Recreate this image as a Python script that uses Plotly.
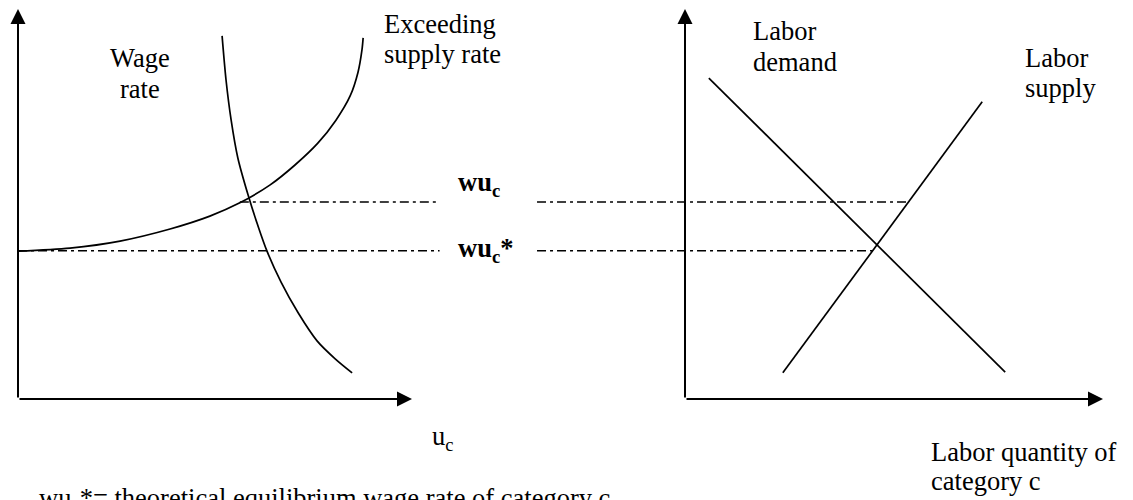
import plotly.graph_objects as go

# ---------------- data ----------------
# Left panel: x = u_c (abstract units), y = wage level
wage_rate_u = [0.00, 1.32, 2.59, 3.86, 4.87, 5.63, 6.40, 7.03, 7.61, 8.07, 8.43, 8.63, 8.73, 8.76]
wage_rate_w = [3.79, 3.87, 4.05, 4.36, 4.69, 5.03, 5.49, 6.00, 6.56, 7.15, 7.77, 8.38, 8.95, 9.26]

excess_supply_u = [5.18, 5.28, 5.41, 5.58, 5.84, 6.09, 6.32, 6.68, 7.11, 7.59, 8.05, 8.48]
excess_supply_w = [9.31, 8.18, 7.15, 6.18, 5.23, 4.44, 3.79, 2.99, 2.21, 1.49, 1.03, 0.67]

# Right panel: x = labor quantity of category c, y = wage level
labor_demand_q = [0.57, 7.66]
labor_demand_w = [8.23, 0.69]
labor_supply_q = [2.34, 7.11]
labor_supply_w = [0.67, 7.62]

# Wage levels
wu_c = 5.05
wu_c_star = 3.80

# Extents of the dash-dot guide lines
wu_c_left_u = [5.63, 10.70]
wu_c_star_left_u = [0.0, 10.70]
wu_c_right_q = [-3.54, 5.36]
wu_c_star_right_q = [-3.54, 4.59]

# Axis arrow extents
u_axis_max = 10.0
q_axis_max = 10.0
w_axis_max = 10.0

# ---------------- layout geometry ----------------
W, H = 1133, 500
SPLIT = 487            # px boundary between the two panels
L_ORIGIN, L_SCALE = 18, 39.4
R_ORIGIN, R_SCALE = 685, 41.8
Y_ORIGIN, Y_SCALE = 399, 39.0

FONT = "Liberation Serif, Times New Roman, DejaVu Serif, serif"
BLACK = "#000000"
DASH = "9px,4px,3px,4px"
TXT = 26.5

fig = go.Figure()

curve_style = dict(color=BLACK, width=1.7)
guide_style = dict(color=BLACK, width=1.5, dash=DASH)

fig.add_trace(go.Scatter(x=wage_rate_u, y=wage_rate_w, mode="lines",
                         line=dict(shape="spline", smoothing=0.8, **curve_style),
                         xaxis="x", yaxis="y"))
fig.add_trace(go.Scatter(x=excess_supply_u, y=excess_supply_w, mode="lines",
                         line=dict(shape="spline", smoothing=0.8, **curve_style),
                         xaxis="x", yaxis="y"))
fig.add_trace(go.Scatter(x=wu_c_left_u, y=[wu_c, wu_c], mode="lines",
                         line=guide_style, xaxis="x", yaxis="y"))
fig.add_trace(go.Scatter(x=wu_c_star_left_u, y=[wu_c_star, wu_c_star], mode="lines",
                         line=guide_style, xaxis="x", yaxis="y"))

fig.add_trace(go.Scatter(x=labor_demand_q, y=labor_demand_w, mode="lines",
                         line=curve_style, xaxis="x2", yaxis="y"))
fig.add_trace(go.Scatter(x=labor_supply_q, y=labor_supply_w, mode="lines",
                         line=curve_style, xaxis="x2", yaxis="y"))
fig.add_trace(go.Scatter(x=wu_c_right_q, y=[wu_c, wu_c], mode="lines",
                         line=guide_style, xaxis="x2", yaxis="y"))
fig.add_trace(go.Scatter(x=wu_c_star_right_q, y=[wu_c_star, wu_c_star], mode="lines",
                         line=guide_style, xaxis="x2", yaxis="y"))

hidden = dict(showgrid=False, zeroline=False, showticklabels=False,
              showline=False, ticks="", fixedrange=True)

fig.update_layout(
    width=W, height=H,
    margin=dict(l=0, r=0, t=0, b=0),
    paper_bgcolor="white", plot_bgcolor="white",
    showlegend=False, hovermode=False,
    font=dict(family=FONT, size=TXT, color=BLACK),
    xaxis=dict(domain=[0, SPLIT / W],
               range=[(0 - L_ORIGIN) / L_SCALE, (SPLIT - L_ORIGIN) / L_SCALE],
               anchor="y", **hidden),
    xaxis2=dict(domain=[SPLIT / W, 1],
                range=[(SPLIT - R_ORIGIN) / R_SCALE, (W - R_ORIGIN) / R_SCALE],
                anchor="y", **hidden),
    yaxis=dict(domain=[0, 1],
               range=[(Y_ORIGIN - H) / Y_SCALE, Y_ORIGIN / Y_SCALE],
               anchor="x", **hidden),
)

# ---------------- axis arrows ----------------
def axis_arrow(xref, x0, y0, x1, y1):
    fig.add_annotation(x=x1, y=y1, ax=x0, ay=y0, xref=xref, yref="y",
                       axref=xref, ayref="y", text="", showarrow=True,
                       arrowhead=2, arrowsize=1.5, arrowwidth=2,
                       arrowcolor=BLACK, standoff=0, startstandoff=0)

axis_arrow("x", 0, 0, 0, w_axis_max)
axis_arrow("x", 0, 0, u_axis_max, 0)
axis_arrow("x2", 0, 0, 0, w_axis_max)
axis_arrow("x2", 0, 0, q_axis_max, 0)

# ---------------- text labels ----------------
def label(text, px, py, xanchor="left", size=TXT):
    fig.add_annotation(x=px / W, y=1 - py / H, xref="paper", yref="paper",
                       text=text, showarrow=False, xanchor=xanchor,
                       yanchor="middle", align=xanchor if xanchor != "center" else "center",
                       font=dict(family=FONT, size=size, color=BLACK))

label("Wage", 140, 58, xanchor="center")
label("rate", 140, 89, xanchor="center")
label("Exceeding", 382, 24)
label("supply rate", 382, 54)
label("Labor", 751, 31)
label("demand", 751, 62)
label("Labor", 1023, 58)
label("supply", 1023, 88)
label("<b>wu<sub>c</sub></b>", 456, 184)
label("<b>wu<sub>c</sub>*</b>", 456, 250)
label("u<sub>c</sub>", 430, 438)
label("Labor quantity of", 929, 452)
label("category c", 929, 481)
label("wu<sub>c</sub>*= theoretical equilibrium wage rate of category c", 37, 500)

fig.write_html("out.html",
               config={"displayModeBar": False, "staticPlot": True},
               post_script="document.body.style.margin='0';document.body.style.overflow='hidden';")
